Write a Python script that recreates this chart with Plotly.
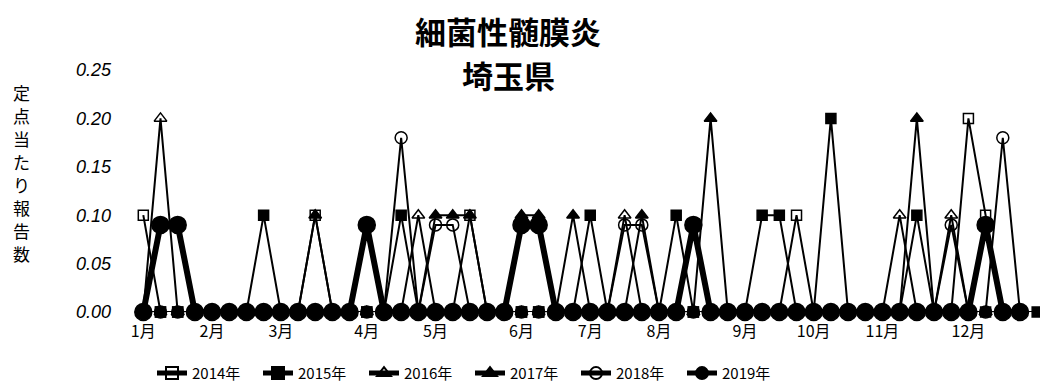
import plotly.graph_objects as go

# Weekly reports per sentinel site, weeks 1-52 (2015 has 53 weeks)
y2014 = [0.1, 0, 0, 0, 0, 0, 0, 0, 0, 0, 0.1, 0, 0,
         0, 0, 0, 0, 0, 0, 0.1, 0, 0, 0, 0, 0, 0,
         0, 0, 0, 0, 0, 0, 0, 0, 0, 0, 0, 0, 0.1,
         0, 0, 0, 0, 0, 0, 0, 0, 0, 0.2, 0.1, 0, 0]
y2015 = [0, 0, 0, 0, 0, 0, 0, 0.1, 0, 0, 0, 0, 0,
         0, 0, 0.1, 0, 0, 0, 0, 0, 0, 0, 0, 0, 0,
         0.1, 0, 0, 0, 0, 0.1, 0, 0, 0, 0, 0.1, 0.1, 0,
         0, 0.2, 0, 0, 0, 0, 0.1, 0, 0, 0, 0, 0, 0,
         0]
y2016 = [0, 0.2, 0, 0, 0, 0, 0, 0, 0, 0, 0, 0, 0,
         0, 0, 0, 0.1, 0, 0, 0, 0, 0, 0, 0, 0, 0,
         0, 0, 0.1, 0, 0, 0, 0, 0, 0, 0, 0, 0, 0,
         0, 0, 0, 0, 0, 0.1, 0, 0, 0.1, 0, 0, 0, 0]
y2017 = [0, 0, 0, 0, 0, 0, 0, 0, 0, 0, 0.1, 0, 0,
         0, 0, 0, 0, 0.1, 0.1, 0.1, 0, 0, 0.1, 0.1, 0, 0.1,
         0, 0, 0, 0.1, 0, 0, 0, 0.2, 0, 0, 0, 0, 0,
         0, 0, 0, 0, 0, 0, 0.2, 0, 0, 0, 0, 0, 0]
y2018 = [0, 0, 0, 0, 0, 0, 0, 0, 0, 0, 0, 0, 0,
         0, 0, 0.18, 0, 0.09, 0.09, 0, 0, 0, 0, 0, 0, 0,
         0, 0, 0.09, 0.09, 0, 0, 0, 0, 0, 0, 0, 0, 0,
         0, 0, 0, 0, 0, 0, 0, 0, 0.09, 0, 0, 0.18, 0]
y2019 = [0, 0.09, 0.09, 0, 0, 0, 0, 0, 0, 0, 0, 0, 0,
         0.09, 0, 0, 0, 0, 0, 0, 0, 0, 0.09, 0.09, 0, 0,
         0, 0, 0, 0, 0, 0, 0.09, 0, 0, 0, 0, 0, 0,
         0, 0, 0, 0, 0, 0, 0, 0, 0, 0, 0.09, 0, 0]

weeks = list(range(1, 54))
month_weeks = [1, 5, 9, 14, 18, 23, 27, 31, 36, 40, 44, 49]
month_labels = ["1月", "2月", "3月", "4月", "5月", "6月",
                "7月", "8月", "9月", "10月", "11月", "12月"]
y_ticks = [0, 0.05, 0.10, 0.15, 0.20, 0.25]
y_title = "定点当たり報告数"

series = [
    ("2014年", y2014, "square-open", 10, 2),
    ("2015年", y2015, "square", 10, 2),
    ("2016年", y2016, "triangle-up-open", 11, 2),
    ("2017年", y2017, "triangle-up", 11, 2),
    ("2018年", y2018, "circle-open", 12, 2),
    ("2019年", y2019, "circle", 17, 6),
]

fig = go.Figure()
for name, vals, sym, size, lw in series:
    fig.add_trace(go.Scatter(
        x=weeks[:len(vals)], y=vals, name=name, mode="lines+markers",
        line=dict(color="black", width=lw),
        marker=dict(symbol=sym, size=size, color="black",
                    line=dict(color="black", width=1.5)),
        cliponaxis=False,
    ))

W, H = 1040, 383
left, top, bottom = 130, 70, 312.5
px0, step = 143.3, 17.19
x_lo = 1 + (left - px0) / step
x_hi = 1 + (W - px0) / step
pw, ph = W - left, bottom - top


def px_x(p):
    return (p - left) / pw


def px_y(p):
    return (bottom - p) / ph


cjk = "Noto Sans CJK JP"
annotations = [
    dict(text="<b>細菌性髄膜炎</b>", x=px_x(508), y=px_y(30)),
    dict(text="<b>埼玉県</b>", x=px_x(508), y=px_y(75)),
]
for a in annotations:
    a.update(xref="paper", yref="paper", xanchor="center", yanchor="middle",
             showarrow=False, font=dict(family=cjk, size=31, color="black"))

# vertical axis title, one character per line
for i, ch in enumerate(y_title):
    annotations.append(dict(
        text=ch, xref="paper", yref="paper", x=px_x(21), y=px_y(93 + i * 23),
        xanchor="center", yanchor="middle", showarrow=False,
        font=dict(family=cjk, size=17, color="black")))

fig.update_layout(
    width=W, height=H,
    margin=dict(l=left, r=0, t=top, b=H - bottom, autoexpand=False),
    paper_bgcolor="white", plot_bgcolor="white",
    showlegend=True,
    legend=dict(orientation="h", x=px_x(152), xanchor="left",
                y=px_y(374), yanchor="middle",
                font=dict(family=cjk, size=15, color="black"),
                entrywidth=61, entrywidthmode="pixels",
                itemsizing="constant", bgcolor="rgba(0,0,0,0)"),
    xaxis=dict(range=[x_lo, x_hi], tickmode="array", tickvals=month_weeks,
               ticktext=month_labels, showgrid=False, zeroline=False,
               showline=False, ticks="", ticklabelstandoff=8,
               tickfont=dict(family=cjk, size=16, color="black")),
    yaxis=dict(range=[0, 0.25], tickmode="array", tickvals=y_ticks,
               ticktext=[f"{v:.2f}" for v in y_ticks], showgrid=False,
               zeroline=False, showline=False, ticks="",
               ticklabelstandoff=18,
               tickfont=dict(family="Liberation Sans", size=18, color="black",
                             style="italic")),
    annotations=annotations,
)

fig.write_html("out.html")
